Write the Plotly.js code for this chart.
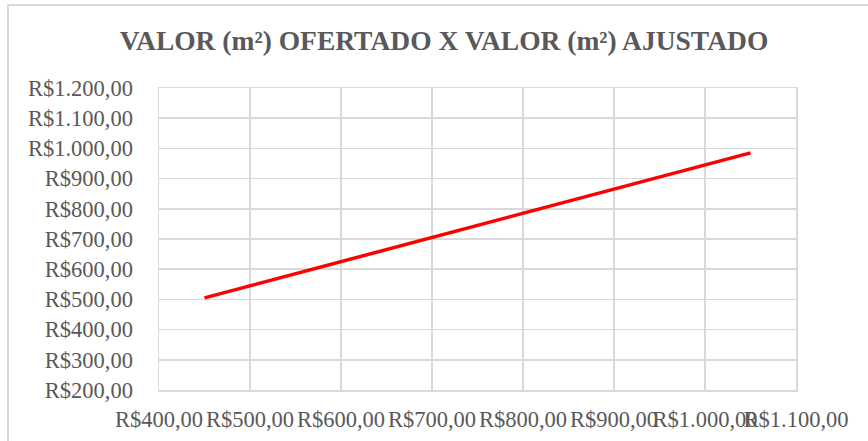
<!DOCTYPE html>
<html>
<head>
<meta charset="utf-8">
<script src="https://cdn.plot.ly/plotly-3.0.1.min.js"></script>
<style>
  html, body { margin: 0; padding: 0; background: #ffffff; }
  #frame { position: absolute; left: 7px; top: 4px; width: 900px; height: 500px;
           border-left: 2px solid #d9d9d9; border-top: 2px solid #d9d9d9; }
  #chart { position: absolute; left: 0; top: 0; width: 868px; height: 441px; }
</style>
</head>
<body>
<div id="frame"></div>
<div id="chart"></div>
<script>
// Data
const valorOfertado = [450, 1050];   // x: offered value per m²
const valorAjustado = [505, 985];    // y: adjusted value per m²
const xTickVals = [400, 500, 600, 700, 800, 900, 1000, 1100];
const yTickVals = [200, 300, 400, 500, 600, 700, 800, 900, 1000, 1100, 1200];
const chartTitle = 'VALOR (m²) OFERTADO X VALOR (m²) AJUSTADO';

function brl(v) {
  const parts = v.toFixed(2).split('.');
  const intPart = parts[0].replace(/\B(?=(\d{3})+(?!\d))/g, '.');
  return 'R\u0024' + intPart + ',' + parts[1];
}
const xTickText = xTickVals.map(brl);
const yTickText = yTickVals.map(brl);

const axisFont = { family: '"Liberation Serif", "Times New Roman", serif', size: 22.5, color: '#595959' };

const trace = {
  x: valorOfertado,
  y: valorAjustado,
  type: 'scatter',
  mode: 'lines',
  line: { color: '#ff0000', width: 3.5 },
  hoverinfo: 'skip'
};

const layout = {
  width: 868,
  height: 441,
  paper_bgcolor: 'rgba(0,0,0,0)',
  plot_bgcolor: 'rgba(0,0,0,0)',
  showlegend: false,
  margin: { l: 159, r: 72, t: 88, b: 51, pad: 0 },
  title: {
    text: chartTitle,
    font: { family: '"Liberation Serif", "Times New Roman", serif', size: 27.5, color: '#595959', weight: 'bold' },
    x: 444 / 868, xanchor: 'center',
    y: 1 - 40 / 441, yanchor: 'middle'
  },
  xaxis: {
    range: [400, 1100],
    tickmode: 'array',
    tickvals: xTickVals,
    ticktext: xTickText,
    tickangle: 0,
    showgrid: true,
    gridcolor: '#d9d9d9',
    gridwidth: 1.5,
    zeroline: false,
    showline: true,
    linecolor: '#d9d9d9',
    linewidth: 1.5,
    mirror: true,
    ticks: '',
    ticklabelstandoff: 8,
    tickfont: axisFont,
    fixedrange: true
  },
  yaxis: {
    range: [200, 1200],
    tickmode: 'array',
    tickvals: yTickVals,
    ticktext: yTickText,
    showgrid: true,
    gridcolor: '#d9d9d9',
    gridwidth: 1.5,
    zeroline: false,
    showline: true,
    linecolor: '#d9d9d9',
    linewidth: 1.5,
    mirror: true,
    ticks: '',
    ticklabelstandoff: 20,
    tickfont: axisFont,
    fixedrange: true
  }
};

Plotly.newPlot('chart', [trace], layout, { staticPlot: true, displayModeBar: false });
</script>
</body>
</html>
